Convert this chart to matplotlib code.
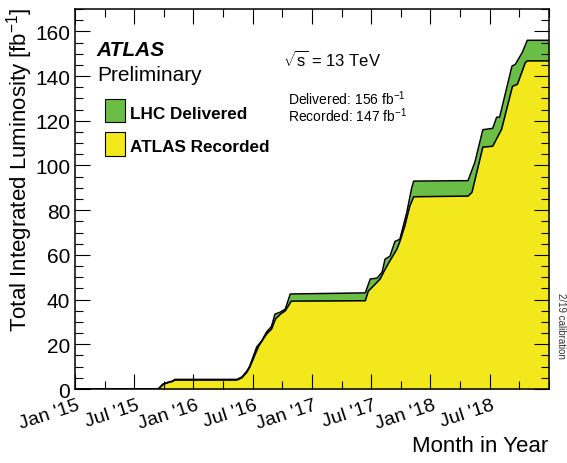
import matplotlib
matplotlib.use('Agg')
import matplotlib.pyplot as plt
import matplotlib.transforms as mtransforms
from matplotlib.patches import Rectangle
from matplotlib.ticker import MultipleLocator

plt.rcParams['font.family'] = ['Liberation Sans', 'DejaVu Sans']
plt.rcParams['mathtext.fontset'] = 'custom'
plt.rcParams['mathtext.rm'] = 'Liberation Sans'
plt.rcParams['mathtext.it'] = 'Liberation Sans:italic'
plt.rcParams['mathtext.bf'] = 'Liberation Sans:bold'

# x in months since 1 Jan 2015, y in fb^-1
delivered_month = [0, 8.4, 8.9, 9.4, 9.9, 10.1, 16.4, 16.9, 17.4, 17.7, 18.4, 18.9, 19.4,
                   19.9, 20.25, 20.8, 21.3, 21.8, 29.4, 29.9, 30.6, 31.1, 31.4, 31.9,
                   32.4, 32.9, 33.6, 34.1, 34.3, 39.8, 40.5, 41.3, 42.3, 42.7, 43.0,
                   44.25, 44.6, 45.3, 45.8, 48]
delivered_lumi = [0, 0, 2.2, 3.0, 3.6, 4.3, 4.3, 5.4, 8.0, 10.3, 18.8, 21.5, 25.5,
                  28.0, 33.5, 34.4, 35.8, 42.5, 43.0, 49.2, 49.6, 52.3, 58.1, 59.4,
                  66.0, 67.0, 79.0, 90.0, 93.0, 93.2, 101.5, 116.0, 116.6, 121.6, 121.6,
                  144.4, 145.3, 150.6, 156.0, 156.0]

recorded_month = [0, 8.5, 8.9, 9.4, 9.9, 10.1, 16.4, 16.9, 17.4, 17.7, 18.6, 19.4, 19.9,
                  20.3, 20.8, 21.3, 21.9, 29.4, 29.7, 30.2, 30.9, 31.3, 31.7, 32.6,
                  32.9, 33.4, 33.9, 34.3, 39.8, 40.2, 41.3, 42.3, 43.2, 44.3, 44.8,
                  45.6, 45.8, 48]
recorded_lumi = [0, 0, 2.0, 2.8, 3.4, 4.0, 4.0, 5.0, 7.5, 9.8, 19.2, 24.6, 26.8,
                 31.3, 33.5, 35.0, 39.3, 39.5, 43.8, 46.0, 49.2, 52.7, 55.9, 62.6,
                 66.0, 73.0, 81.8, 86.0, 86.3, 88.0, 108.2, 108.6, 116.2, 135.4, 136.3,
                 146.0, 146.8, 146.8]

tick_months = [0, 6, 12, 18, 24, 30, 36, 42]
tick_labels = ["Jan '15", "Jul '15", "Jan '16", "Jul '16", "Jan '17", "Jul '17",
               "Jan '18", "Jul '18"]

green = '#6abd45'
yellow = '#f2e81b'

fig = plt.figure(figsize=(5.67, 4.64), dpi=100)
ax = fig.add_axes([75 / 567, 1 - 390 / 464, 474 / 567, 380 / 464])

ax.fill_between(delivered_month, delivered_lumi, color=green, lw=0)
ax.plot(delivered_month, delivered_lumi, color='black', lw=1.1)
ax.fill_between(recorded_month, recorded_lumi, color=yellow, lw=0)
ax.plot(recorded_month, recorded_lumi, color='black', lw=1.1)

ax.set_xlim(0, 48)
ax.set_ylim(0, 170)

ax.set_xticks(tick_months)
ax.set_xticklabels(tick_labels, rotation=18, ha='right', fontsize=14)
ax.xaxis.set_minor_locator(MultipleLocator(3))
ax.yaxis.set_major_locator(MultipleLocator(20))
ax.yaxis.set_minor_locator(MultipleLocator(5))
ax.tick_params(which='both', direction='in', top=True, right=True, width=0.8)
ax.tick_params(which='major', length=11)
ax.tick_params(which='minor', length=5.5)
ax.tick_params(axis='y', labelsize=15, pad=3.5)
ax.tick_params(axis='x', pad=5.5)
for s in ax.spines.values():
    s.set_linewidth(1.1)

offset = mtransforms.ScaledTranslation(7 / 100, 0, fig.dpi_scale_trans)
for lab in ax.get_xticklabels():
    lab.set_transform(lab.get_transform() + offset)

fig.text(548 / 567, 1 - 452 / 464, 'Month in Year', ha='right', va='baseline', fontsize=16)
fig.text(20 / 567, 1 - 170 / 464, r'Total Integrated Luminosity [fb$^{-1}$]',
         rotation=90, ha='center', va='center', fontsize=16)

fig.text(96 / 567, 1 - 56 / 464, 'ATLAS', fontsize=15, fontweight='bold',
         fontstyle='italic', va='baseline')
fig.text(97 / 567, 1 - 81 / 464, 'Preliminary', fontsize=15, va='baseline')

fig.patches.append(Rectangle((105 / 567, 1 - 123 / 464), 20 / 567, 23 / 464,
                             transform=fig.transFigure, facecolor=green,
                             edgecolor='black', lw=0.8))
fig.patches.append(Rectangle((105 / 567, 1 - 157 / 464), 20 / 567, 24 / 464,
                             transform=fig.transFigure, facecolor=yellow,
                             edgecolor='black', lw=0.8))
fig.text(130 / 567, 1 - 119 / 464, 'LHC Delivered', fontsize=12.3, fontweight='bold',
         va='baseline')
fig.text(130 / 567, 1 - 152 / 464, 'ATLAS Recorded', fontsize=12.3, fontweight='bold',
         va='baseline')

fig.text(283 / 567, 1 - 67 / 464, r'$\sqrt{\mathrm{s}}$ = 13 TeV', fontsize=12, va='baseline')
fig.text(288 / 567, 1 - 105 / 464, r'Delivered: 156 fb$^{-1}$', fontsize=10, va='baseline')
fig.text(288 / 567, 1 - 122 / 464, r'Recorded: 147 fb$^{-1}$', fontsize=10, va='baseline')

fig.text(561 / 567, 1 - 326 / 464, '2/19 calibration', rotation=-90, ha='center',
         va='center', fontsize=7, color='#333333')

fig.savefig('out.png', dpi=100)
